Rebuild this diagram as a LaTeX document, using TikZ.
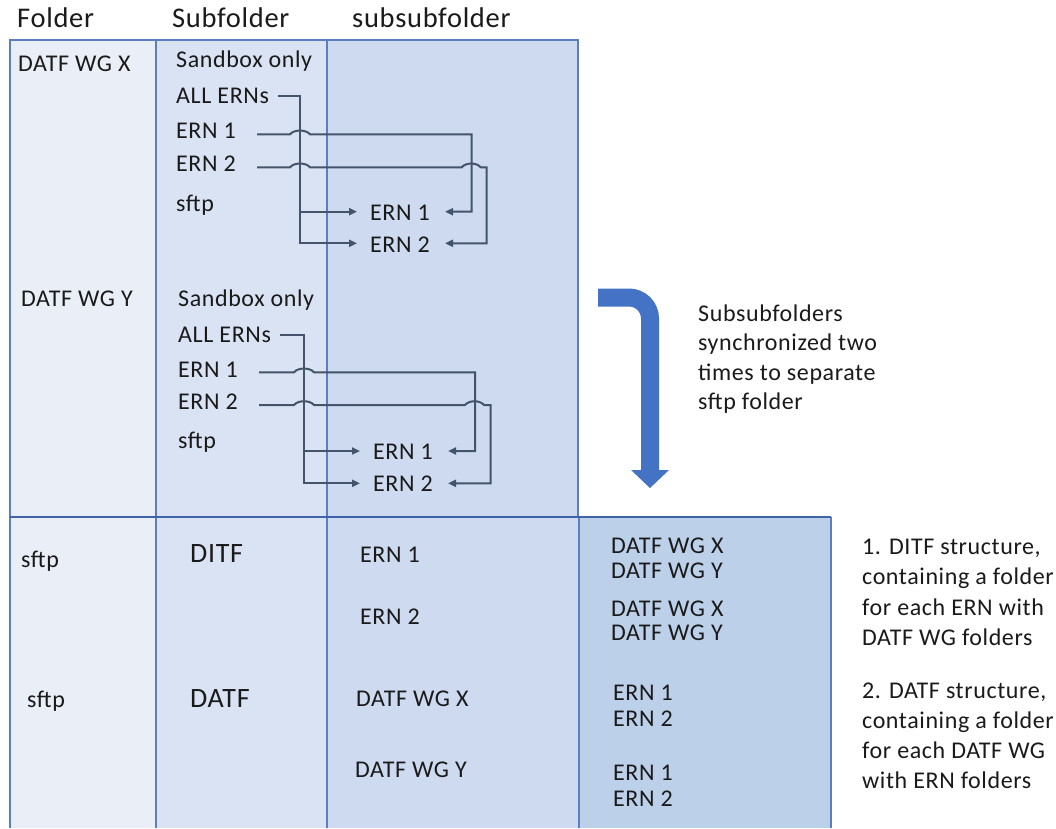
\documentclass[tikz,border=0pt]{standalone}
\usepackage{fontspec}
\setmainfont{Carlito}[LetterSpace=2.5]
\usetikzlibrary{arrows.meta,calc}
\definecolor{cA}{HTML}{EAEFF7}
\definecolor{cB}{HTML}{DAE3F3}
\definecolor{cC}{HTML}{CDDAEF}
\definecolor{cD}{HTML}{BDD0EA}
\definecolor{gridc}{HTML}{5B7EC0}
\definecolor{gridd}{HTML}{3F62A8}
\definecolor{connc}{HTML}{44546A}
\definecolor{arrblue}{HTML}{4472C4}
\definecolor{txtc}{HTML}{1A1A1A}
\tikzset{
  txt/.style={inner sep=0pt, anchor=base west, text height=15.5pt, text depth=0pt, text=txtc, font=\fontsize{24}{29}\selectfont},
  hdr/.style={txt, text height=18pt, font=\fontsize{28.5}{34}\selectfont},
  bigtxt/.style={txt, text height=18pt, font=\fontsize{28}{34}\selectfont},
  conn/.style={draw=connc, line width=2pt},
  arr/.style={-{Triangle[length=8pt,width=7pt]}},
  grid/.style={draw=gridc, line width=1.5pt}
}
\begin{document}
\begin{tikzpicture}[x=1pt,y=-1pt]
\useasboundingbox (0,0) rectangle (1056,828);
\fill[white] (0,0) rectangle (1056,828);
% top table
\fill[cA] (10,40) rectangle (156,517);
\fill[cB] (156,40) rectangle (327,517);
\fill[cC] (327,40) rectangle (578,517);
% bottom table
\fill[cA] (10,517) rectangle (156,828);
\fill[cB] (156,517) rectangle (327,828);
\fill[cC] (327,517) rectangle (579,828);
\fill[cD] (579,517) rectangle (831,828);
% grid
\draw[grid] (10,828) -- (10,40) -- (578,40) -- (578,517);
\draw[grid] (156,40) -- (156,828);
\draw[grid] (327,40) -- (327,828);
\draw[grid, line width=2.2pt] (579,517) -- (579,828);
\draw[grid] (831,517) -- (831,828);
\draw[draw=gridd, line width=2.5pt] (10,517) -- (831,517);

% headers
\node[hdr] (h1) at (17,27) {Folder};
\node[hdr] (h2) at (172,27) {Subfolder};
\node[hdr] (h3) at (352,27) {subsubfolder};

% group A
\node[txt] (fA) at (18,71) {DATF WG X};
\node[txt] (sbA) at (176,67) {Sandbox only};
\node[txt] (aA) at (176,103) {ALL ERNs};
\node[txt] (eA1) at (176,138) {ERN 1};
\node[txt] (eA2) at (176,171) {ERN 2};
\node[txt] (sfA) at (176,211) {sftp};
\node[txt] (sA1) at (370,220) {ERN 1};
\node[txt] (sA2) at (370,252) {ERN 2};

% group B
\node[txt] (fB) at (21,306) {DATF WG Y};
\node[txt] (sbB) at (178,306) {Sandbox only};
\node[txt] (aB) at (178,342) {ALL ERNs};
\node[txt] (eB1) at (178,377) {ERN 1};
\node[txt] (eB2) at (178,409) {ERN 2};
\node[txt] (sfB) at (178,448) {sftp};
\node[txt] (sB1) at (373,459) {ERN 1};
\node[txt] (sB2) at (373,491) {ERN 2};

% connectors group A
\coordinate (busA) at (300,0);
\coordinate (vA1) at (471.7,0);
\coordinate (vA2) at (486.7,0);
\coordinate (tA1) at ($(sA1.base west)+(-13,-8.3)$);
\coordinate (tA2) at ($(sA2.base west)+(-13,-8.7)$);
\coordinate (rA1) at ($(sA1.base east)+(15,-8.3)$);
\coordinate (rA2) at ($(sA2.base east)+(15,-8.7)$);
\coordinate (e1A) at ($(eA1.base east)+(21,-3.7)$);
\coordinate (e2A) at ($(eA2.base east)+(21,-3.7)$);
\draw[conn,arr] ($(aA.base east)+(9,-7.3)$) -| (busA |- tA2) -- (tA2);
\draw[conn,arr] (busA |- tA1) -- (tA1);
\draw[conn,arr] (e1A) -- ($(busA |- e1A)+(-10,0)$) .. controls +(4,-5) and +(-4,-5) .. ($(busA |- e1A)+(10,0)$) -- (vA1 |- e1A) |- (rA1);
\draw[conn,arr] (e2A) -- ($(busA |- e2A)+(-10,0)$) .. controls +(4,-5) and +(-4,-5) .. ($(busA |- e2A)+(10,0)$) -- ($(vA1 |- e2A)+(-10,0)$) .. controls +(4,-5) and +(-4,-5) .. ($(vA1 |- e2A)+(9,0)$) -- (vA2 |- e2A) |- (rA2);

% connectors group B
\coordinate (busB) at (304,0);
\coordinate (vB1) at (475,0);
\coordinate (vB2) at (490.7,0);
\coordinate (tB1) at ($(sB1.base west)+(-13,-8)$);
\coordinate (tB2) at ($(sB2.base west)+(-13,-7.7)$);
\coordinate (rB1) at ($(sB1.base east)+(15,-8)$);
\coordinate (rB2) at ($(sB2.base east)+(15,-7.7)$);
\coordinate (e1B) at ($(eB1.base east)+(21,-4.7)$);
\coordinate (e2B) at ($(eB2.base east)+(21,-4)$);
\draw[conn,arr] ($(aB.base east)+(9,-7)$) -| (busB |- tB2) -- (tB2);
\draw[conn,arr] (busB |- tB1) -- (tB1);
\draw[conn,arr] (e1B) -- ($(busB |- e1B)+(-10,0)$) .. controls +(4,-5) and +(-4,-5) .. ($(busB |- e1B)+(10,0)$) -- (vB1 |- e1B) |- (rB1);
\draw[conn,arr] (e2B) -- ($(busB |- e2B)+(-10,0)$) .. controls +(4,-5) and +(-4,-5) .. ($(busB |- e2B)+(10,0)$) -- ($(vB1 |- e2B)+(-10,0)$) .. controls +(4,-5) and +(-4,-5) .. ($(vB1 |- e2B)+(9,0)$) -- (vB2 |- e2B) |- (rB2);

% big bent arrow
\draw[arrblue, line width=18pt, rounded corners=21pt] (598,297.5) -| (650,471);
\fill[arrblue] (631,470) -- (669,470) -- (650,488) -- cycle;
\node[txt] (n1) at (698,321) {Subsubfolders};
\node[txt] (n2) at (698,350.5) {synchronized two};
\node[txt] (n3) at (698,380) {times to separate};
\node[txt] (n4) at (698,409.5) {sftp folder};

% bottom table content
\node[txt] (sf1) at (21,567) {sftp};
\node[txt] (sf2) at (27,707) {sftp};
\node[bigtxt] (ditf) at (190,562) {DITF};
\node[bigtxt] (datf) at (190,707) {DATF};
\node[txt] (b1) at (360,562) {ERN 1};
\node[txt] (b2) at (360,624) {ERN 2};
\node[txt] (b3) at (356,706) {DATF WG X};
\node[txt] (b4) at (355,777) {DATF WG Y};
\node[txt] (c1) at (611,553) {DATF WG X};
\node[txt] (c2) at (611,578) {DATF WG Y};
\node[txt] (c3) at (611,616) {DATF WG X};
\node[txt] (c4) at (611,640) {DATF WG Y};
\node[txt] (c5) at (613,700) {ERN 1};
\node[txt] (c6) at (613,726) {ERN 2};
\node[txt] (c7) at (613,780) {ERN 1};
\node[txt] (c8) at (613,806) {ERN 2};

% notes
\node[txt] (m1) at (862,554) {1. DITF structure,};
\node[txt] (m2) at (862,584) {containing a folder};
\node[txt] (m3) at (862,615) {for each ERN with};
\node[txt] (m4) at (862,645) {DATF WG folders};
\node[txt] (m5) at (862,698) {2. DATF structure,};
\node[txt] (m6) at (862,728) {containing a folder};
\node[txt] (m7) at (862,758) {for each DATF WG};
\node[txt] (m8) at (862,788) {with ERN folders};
\end{tikzpicture}
\end{document}
